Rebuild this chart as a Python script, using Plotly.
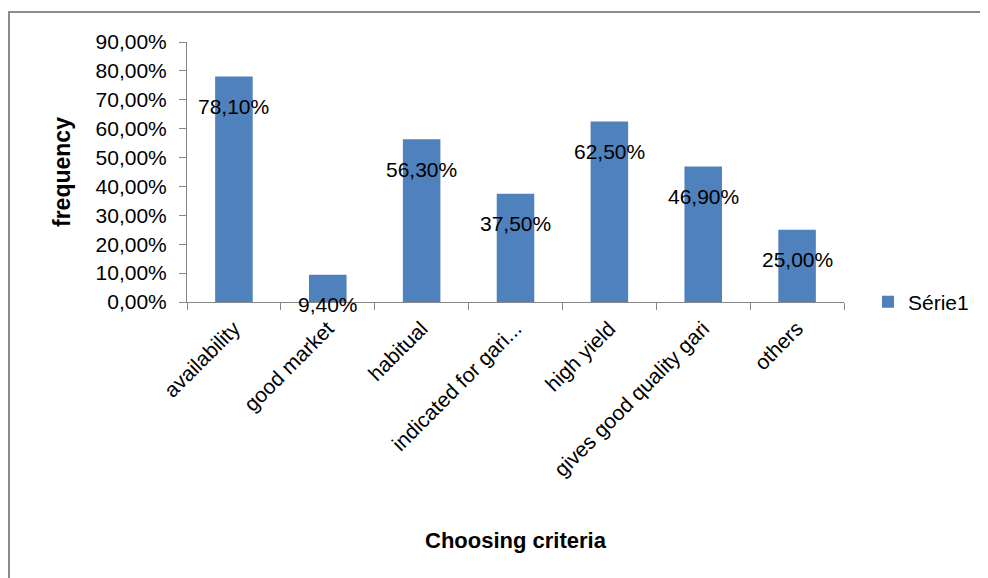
import plotly.graph_objects as go

categories = ["availability", "good market", "habitual", "indicated for gari...",
              "high yield", "gives good quality gari", "others"]
values = [78.1, 9.4, 56.3, 37.5, 62.5, 46.9, 25.0]
labels = ["78,10%", "9,40%", "56,30%", "37,50%", "62,50%", "46,90%", "25,00%"]
tick_vals = [0, 10, 20, 30, 40, 50, 60, 70, 80, 90]
tick_text = ["0,00%", "10,00%", "20,00%", "30,00%", "40,00%", "50,00%",
             "60,00%", "70,00%", "80,00%", "90,00%"]

FONT = "Liberation Sans, Arial, sans-serif"
OFF = 8  # page body margin
W, H = 988 - OFF, 578 - OFF
# plot area in screen pixels
SX0, SX1, SY0, SY1 = 187, 844, 42, 302
L, R, T, B = SX0 - OFF, W - (SX1 - OFF), SY0 - OFF, H - (SY1 - OFF)
pw, ph = W - L - R, H - T - B


def px_x(p):
    return (p - SX0) / pw


def px_y(p):
    return (SY1 - p) / ph


fig = go.Figure()
fig.add_trace(go.Bar(x=categories, y=values, name="Série1",
                     marker=dict(color="#4F81BD", line=dict(width=0))))

annotations = []
for c, v, t in zip(categories, values, labels):
    annotations.append(dict(x=c, y=v, xref="x", yref="y", text=t, showarrow=False,
                            yshift=-30, yanchor="middle", xanchor="center",
                            font=dict(family=FONT, size=21, color="black")))
annotations.append(dict(x=0.5, y=0, xref="paper", yref="paper", text="<b>Choosing criteria</b>",
                        showarrow=False, yshift=-238, yanchor="middle",
                        font=dict(family=FONT, size=22, color="black")))
annotations.append(dict(x=0, y=0.5, xref="paper", yref="paper", text="<b>frequency</b>",
                        showarrow=False, xshift=-125, textangle=-90, xanchor="center",
                        font=dict(family=FONT, size=23, color="black")))

shapes = [
    dict(type="line", xref="paper", yref="paper", x0=px_x(OFF), x1=px_x(988), y0=px_y(12), y1=px_y(12),
         line=dict(color="#8C8C8C", width=2)),
    dict(type="line", xref="paper", yref="paper", x0=px_x(9), x1=px_x(9), y0=px_y(12), y1=px_y(578),
         line=dict(color="#8C8C8C", width=2)),
]

fig.update_layout(
    width=W, height=H,
    margin=dict(l=L, r=R, t=T, b=B),
    paper_bgcolor="white", plot_bgcolor="white",
    bargap=0.6,
    showlegend=True,
    legend=dict(x=px_x(868), y=px_y(302), xanchor="left", yanchor="middle",
                font=dict(family=FONT, size=21, color="black"), bgcolor="rgba(0,0,0,0)"),
    annotations=annotations,
    shapes=shapes,
    xaxis=dict(showline=True, linecolor="#868686", linewidth=1, ticks="outside",
               tickson="boundaries", ticklen=7, tickcolor="#868686", tickangle=-45,
               ticklabelstandoff=5,
               tickfont=dict(family=FONT, size=21, color="black"), showgrid=False),
    yaxis=dict(range=[0, 90], tickvals=tick_vals, ticktext=tick_text, showline=True,
               linecolor="#868686", linewidth=1, ticks="outside", ticklen=7, tickcolor="#868686",
               ticklabelstandoff=8,
               tickfont=dict(family=FONT, size=21, color="black"), showgrid=False, zeroline=False),
)

fig.write_html("out.html")
